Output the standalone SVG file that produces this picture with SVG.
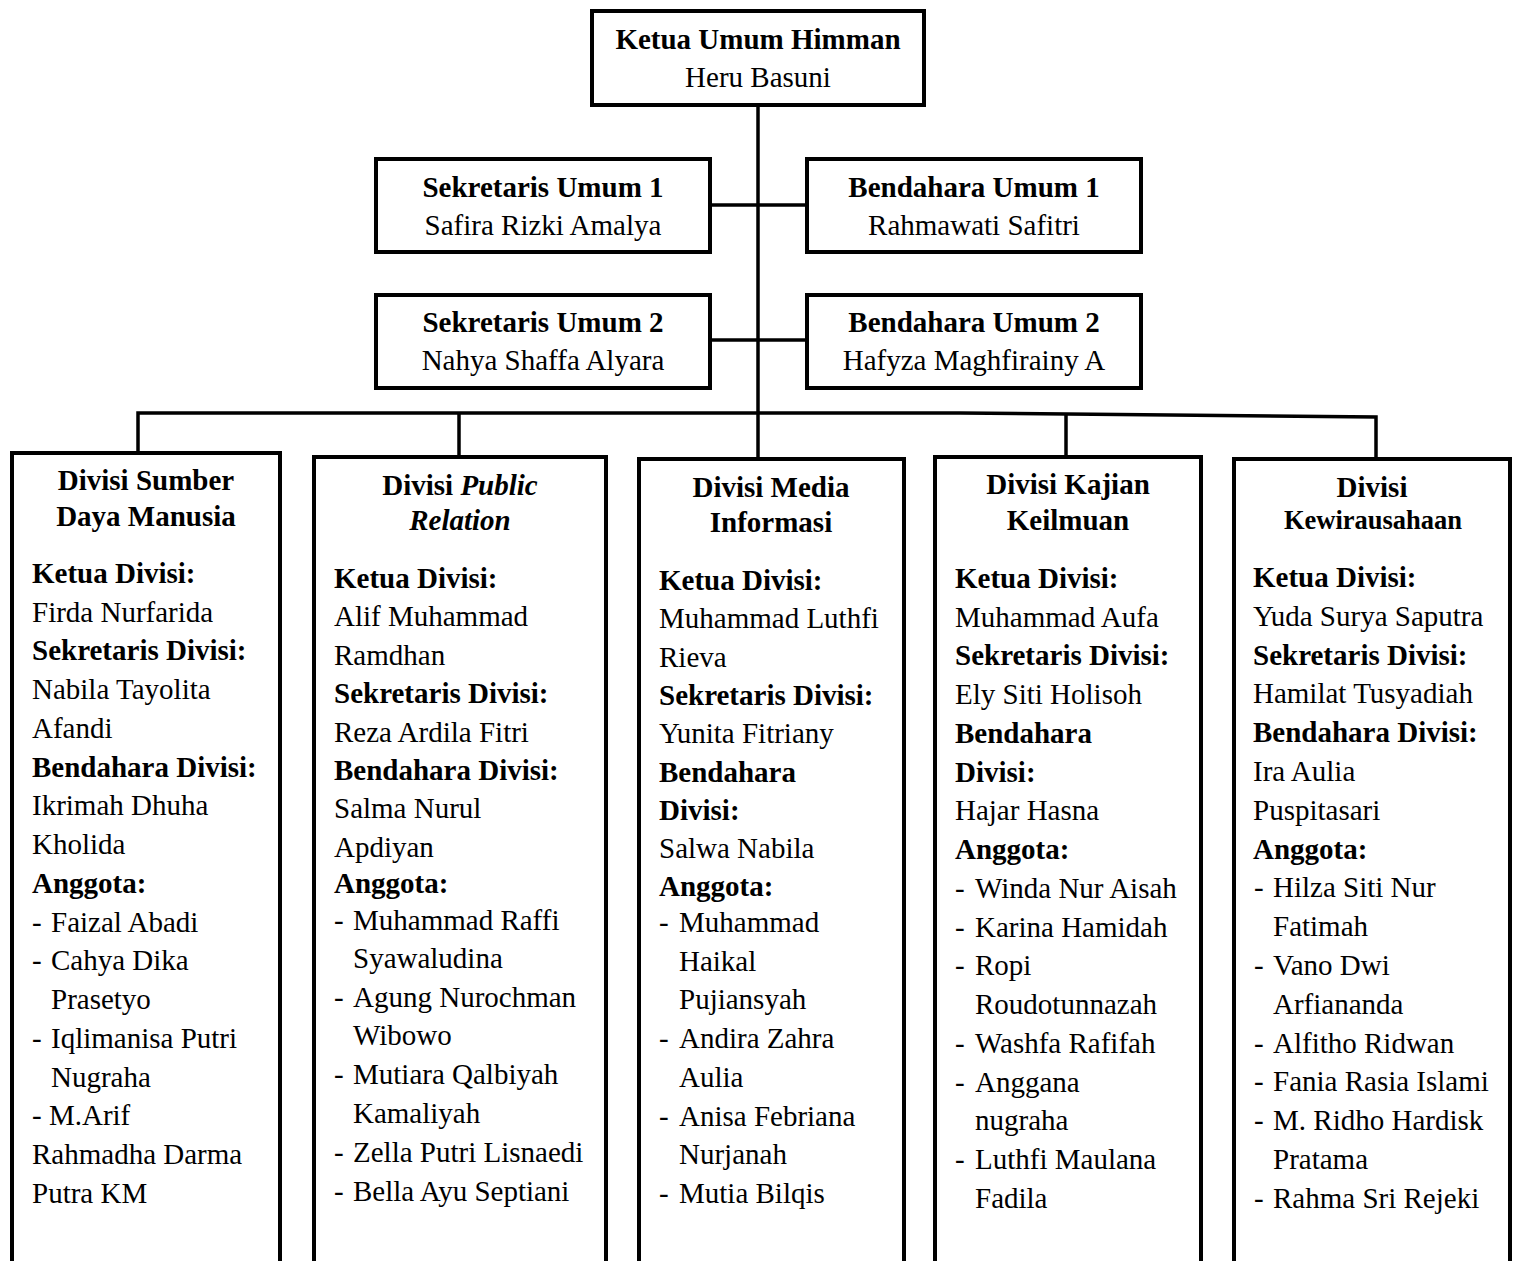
<svg xmlns="http://www.w3.org/2000/svg" width="1518" height="1261" viewBox="0 0 1518 1261">
<style>
text{font-family:"Liberation Serif","Times New Roman",serif;font-size:29px;fill:#000}
.b{font-weight:bold}
.i{font-style:italic}
.c{text-anchor:middle}
.box{fill:#fff;stroke:#000;stroke-width:4}
.ln{fill:none;stroke:#000;stroke-width:3.5}
</style>
<rect width="1518" height="1261" fill="#fff"/>
<g id="connectors">
<path class="ln" d="M758,107 V457"/>
<path class="ln" d="M712,205 H805"/>
<path class="ln" d="M712,340 H805"/>
<path class="ln" d="M138,451 V413 H960 L1376,417 V457"/>
<path class="ln" d="M459,413 V455"/>
<path class="ln" d="M1066,415 V456"/>
</g>
<g id="ketua-umum">
<rect class="box" x="592" y="11" width="332" height="94"/>
<text class="b c" x="758" y="49">Ketua Umum Himman</text>
<text class="c" x="758" y="87">Heru Basuni</text>
</g>
<g id="sekretaris-umum-1">
<rect class="box" x="376" y="159" width="334" height="93"/>
<text class="b c" x="543" y="197">Sekretaris Umum 1</text>
<text class="c" x="543" y="235">Safira Rizki Amalya</text>
</g>
<g id="bendahara-umum-1">
<rect class="box" x="807" y="159" width="334" height="93"/>
<text class="b c" x="974" y="197">Bendahara Umum 1</text>
<text class="c" x="974" y="235">Rahmawati Safitri</text>
</g>
<g id="sekretaris-umum-2">
<rect class="box" x="376" y="295" width="334" height="93"/>
<text class="b c" x="543" y="332">Sekretaris Umum 2</text>
<text class="c" x="543" y="370">Nahya Shaffa Alyara</text>
</g>
<g id="bendahara-umum-2">
<rect class="box" x="807" y="295" width="334" height="93"/>
<text class="b c" x="974" y="332">Bendahara Umum 2</text>
<text class="c" x="974" y="370">Hafyza Maghfirainy A</text>
</g>
<g id="divisi-sdm">
<rect class="box" x="12" y="453" width="268" height="830"/>
<text class="b c" x="146" y="490">Divisi Sumber</text>
<text class="b c" x="146" y="526">Daya Manusia</text>
<text class="b" x="32" y="583">Ketua Divisi:</text>
<text x="32" y="622">Firda Nurfarida</text>
<text class="b" x="32" y="660">Sekretaris Divisi:</text>
<text x="32" y="699">Nabila Tayolita</text>
<text x="32" y="738">Afandi</text>
<text class="b" x="32" y="777">Bendahara Divisi:</text>
<text x="32" y="815">Ikrimah Dhuha</text>
<text x="32" y="854">Kholida</text>
<text class="b" x="32" y="893">Anggota:</text>
<text y="932"><tspan x="32">-</tspan><tspan x="51">Faizal Abadi</tspan></text>
<text y="970"><tspan x="32">-</tspan><tspan x="51">Cahya Dika</tspan></text>
<text x="51" y="1009">Prasetyo</text>
<text y="1048"><tspan x="32">-</tspan><tspan x="51">Iqlimanisa Putri</tspan></text>
<text x="51" y="1087">Nugraha</text>
<text x="32" y="1125">- M.Arif</text>
<text x="32" y="1164">Rahmadha Darma</text>
<text x="32" y="1203">Putra KM</text>
</g>
<g id="divisi-pr">
<rect class="box" x="314" y="457" width="292" height="830"/>
<text class="b c" x="460" y="495">Divisi <tspan class="i">Public</tspan></text>
<text class="b i c" x="460" y="530">Relation</text>
<text class="b" x="334" y="588">Ketua Divisi:</text>
<text x="334" y="626">Alif Muhammad</text>
<text x="334" y="665">Ramdhan</text>
<text class="b" x="334" y="703">Sekretaris Divisi:</text>
<text x="334" y="742">Reza Ardila Fitri</text>
<text class="b" x="334" y="780">Bendahara Divisi:</text>
<text x="334" y="818">Salma Nurul</text>
<text x="334" y="857">Apdiyan</text>
<text class="b" x="334" y="893">Anggota:</text>
<text y="930"><tspan x="334">-</tspan><tspan x="353">Muhammad Raffi</tspan></text>
<text x="353" y="968">Syawaludina</text>
<text y="1007"><tspan x="334">-</tspan><tspan x="353">Agung Nurochman</tspan></text>
<text x="353" y="1045">Wibowo</text>
<text y="1084"><tspan x="334">-</tspan><tspan x="353">Mutiara Qalbiyah</tspan></text>
<text x="353" y="1123">Kamaliyah</text>
<text y="1162"><tspan x="334">-</tspan><tspan x="353">Zella Putri Lisnaedi</tspan></text>
<text y="1201"><tspan x="334">-</tspan><tspan x="353">Bella Ayu Septiani</tspan></text>
</g>
<g id="divisi-media">
<rect class="box" x="639" y="459" width="265" height="830"/>
<text class="b c" x="771" y="497">Divisi Media</text>
<text class="b c" x="771" y="532">Informasi</text>
<text class="b" x="659" y="590">Ketua Divisi:</text>
<text x="659" y="628">Muhammad Luthfi</text>
<text x="659" y="667">Rieva</text>
<text class="b" x="659" y="705">Sekretaris Divisi:</text>
<text x="659" y="743">Yunita Fitriany</text>
<text class="b" x="659" y="782">Bendahara</text>
<text class="b" x="659" y="820">Divisi:</text>
<text x="659" y="858">Salwa Nabila</text>
<text class="b" x="659" y="896">Anggota:</text>
<text y="932"><tspan x="659">-</tspan><tspan x="679">Muhammad</tspan></text>
<text x="679" y="971">Haikal</text>
<text x="679" y="1009">Pujiansyah</text>
<text y="1048"><tspan x="659">-</tspan><tspan x="679">Andira Zahra</tspan></text>
<text x="679" y="1087">Aulia</text>
<text y="1126"><tspan x="659">-</tspan><tspan x="679">Anisa Febriana</tspan></text>
<text x="679" y="1164">Nurjanah</text>
<text y="1203"><tspan x="659">-</tspan><tspan x="679">Mutia Bilqis</tspan></text>
</g>
<g id="divisi-kajian">
<rect class="box" x="935" y="457" width="266" height="830"/>
<text class="b c" x="1068" y="494">Divisi Kajian</text>
<text class="b c" x="1068" y="530">Keilmuan</text>
<text class="b" x="955" y="588">Ketua Divisi:</text>
<text x="955" y="627">Muhammad Aufa</text>
<text class="b" x="955" y="665">Sekretaris Divisi:</text>
<text x="955" y="704">Ely Siti Holisoh</text>
<text class="b" x="955" y="743">Bendahara</text>
<text class="b" x="955" y="782">Divisi:</text>
<text x="955" y="820">Hajar Hasna</text>
<text class="b" x="955" y="859">Anggota:</text>
<text y="898"><tspan x="955">-</tspan><tspan x="975">Winda Nur Aisah</tspan></text>
<text y="937"><tspan x="955">-</tspan><tspan x="975">Karina Hamidah</tspan></text>
<text y="975"><tspan x="955">-</tspan><tspan x="975">Ropi</tspan></text>
<text x="975" y="1014">Roudotunnazah</text>
<text y="1053"><tspan x="955">-</tspan><tspan x="975">Washfa Rafifah</tspan></text>
<text y="1092"><tspan x="955">-</tspan><tspan x="975">Anggana</tspan></text>
<text x="975" y="1130">nugraha</text>
<text y="1169"><tspan x="955">-</tspan><tspan x="975">Luthfi Maulana</tspan></text>
<text x="975" y="1208">Fadila</text>
</g>
<g id="divisi-kewirausahaan">
<rect class="box" x="1234" y="459" width="276" height="830"/>
<text class="b c" x="1372" y="497">Divisi</text>
<text class="b c" x="1373" y="529" style="font-size:26.5px">Kewirausahaan</text>
<text class="b" x="1253" y="587">Ketua Divisi:</text>
<text x="1253" y="626">Yuda Surya Saputra</text>
<text class="b" x="1253" y="665">Sekretaris Divisi:</text>
<text x="1253" y="703">Hamilat Tusyadiah</text>
<text class="b" x="1253" y="742">Bendahara Divisi:</text>
<text x="1253" y="781">Ira Aulia</text>
<text x="1253" y="820">Puspitasari</text>
<text class="b" x="1253" y="859">Anggota:</text>
<text y="897"><tspan x="1254">-</tspan><tspan x="1273">Hilza Siti Nur</tspan></text>
<text x="1273" y="936">Fatimah</text>
<text y="975"><tspan x="1254">-</tspan><tspan x="1273">Vano Dwi</tspan></text>
<text x="1273" y="1014">Arfiananda</text>
<text y="1053"><tspan x="1254">-</tspan><tspan x="1273">Alfitho Ridwan</tspan></text>
<text y="1091"><tspan x="1254">-</tspan><tspan x="1273">Fania Rasia Islami</tspan></text>
<text y="1130"><tspan x="1254">-</tspan><tspan x="1273">M. Ridho Hardisk</tspan></text>
<text x="1273" y="1169">Pratama</text>
<text y="1208"><tspan x="1254">-</tspan><tspan x="1273">Rahma Sri Rejeki</tspan></text>
</g>
</svg>
